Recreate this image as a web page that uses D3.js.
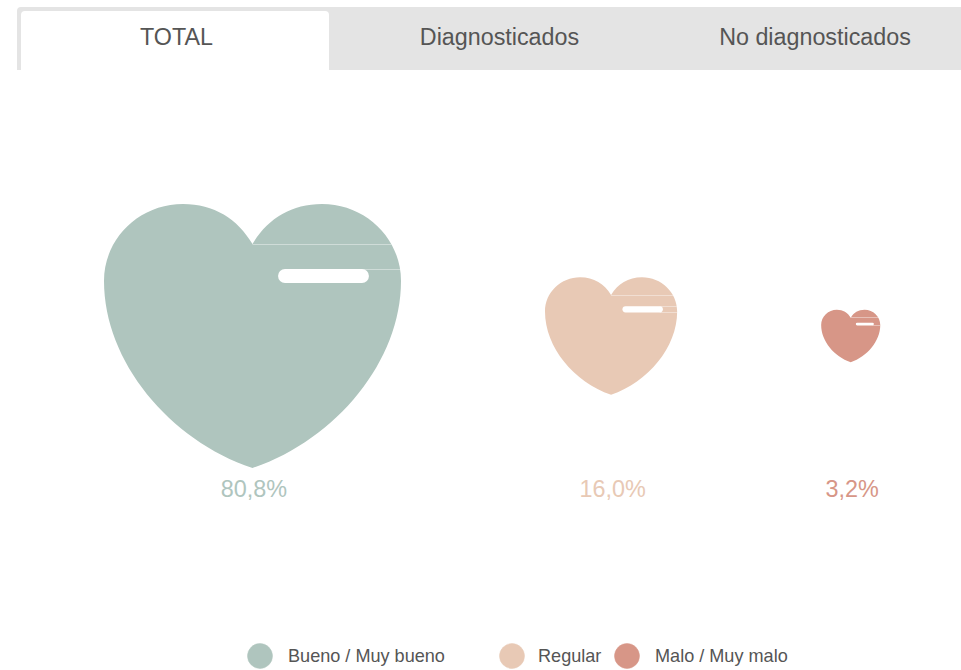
<!DOCTYPE html>
<html><head><meta charset="utf-8">
<script src="https://cdn.jsdelivr.net/npm/d3@7/dist/d3.min.js"></script>
<style>html,body{margin:0;padding:0;background:#fff;overflow:hidden}svg{display:block}text{font-family:"Liberation Sans",Arial,sans-serif}</style>
</head><body><svg id="c" width="961" height="670"></svg>
<script>
const tabs = ["TOTAL", "Diagnosticados", "No diagnosticados"];
const categories = ["Bueno / Muy bueno", "Regular", "Malo / Muy malo"];
const values = [80.8, 16.0, 3.2];
const valueLabels = ["80,8%", "16,0%", "3,2%"];
const colors = ["#afc5be", "#e8c9b5", "#d79687"];
const seamEdges = [["top"], ["top", "bottom"], ["bottom"]];

const svg = d3.select("#c");
// tabs
const tabX = [176.5, 499.5, 815];
svg.append("path").attr("fill", "#e4e4e4")
  .attr("d", "M17,70V11a4,4 0 0 1 4,-4H961V70Z");
svg.append("path").attr("fill", "#fff")
  .attr("d", "M21,70V15a4,4 0 0 1 4,-4H325a4,4 0 0 1 4,4V70Z");
svg.selectAll(".tab").data(tabs).join("text").attr("class", "tab")
  .attr("x", (d, i) => tabX[i]).attr("y", 45).attr("text-anchor", "middle")
  .attr("font-size", 23.3).attr("fill", "#555").text(d => d);

// hearts: width follows sqrt of the value, equal gaps between them
const size = d3.scaleSqrt().domain([0, d3.max(values)]).range([0, 297]);
const gap = 144, startX = 104, midY = 336;
let cursor = startX;
const cx = values.map(v => { const w = size(v); const c = cursor + w / 2; cursor += w + gap; return c; });

function heart(w, x0, y0) {
  const X = u => x0 + u * w, Y = v => y0 + v * w;
  const p = d3.path();
  p.moveTo(X(0), Y(.135));
  p.bezierCurveTo(X(-.05), Y(.05), X(-.13), Y(0), X(-.234), Y(0));
  p.bezierCurveTo(X(-.38), Y(0), X(-.5), Y(.115), X(-.5), Y(.259));
  p.bezierCurveTo(X(-.5), Y(.53), X(-.28), Y(.794), X(0), Y(.889));
  p.bezierCurveTo(X(.28), Y(.794), X(.5), Y(.53), X(.5), Y(.259));
  p.bezierCurveTo(X(.5), Y(.115), X(.38), Y(0), X(.234), Y(0));
  p.bezierCurveTo(X(.13), Y(0), X(.05), Y(.05), X(0), Y(.135));
  p.closePath();
  return p.toString();
}
const row = y => Math.floor(y) + .5;
const defs = svg.append("defs");
values.forEach((v, i) => {
  const w = size(v), x0 = cx[i], y0 = midY - w * .889 / 2;
  const d = heart(w, x0, y0);
  defs.append("clipPath").attr("id", "h" + i).append("path").attr("d", d);
  svg.append("path").attr("d", d).attr("fill", colors[i]);
  const g = svg.append("g").attr("clip-path", `url(#h${i})`)
    .attr("stroke", "#fff").attr("stroke-opacity", .4).attr("stroke-width", 1);
  const slitL = x0 + .086 * w, slitR = x0 + .392 * w, slitT = y0 + .219 * w, slitH = .047 * w;
  const ny = row(y0 + .135 * w);
  g.append("line").attr("x1", x0).attr("x2", x0 + w).attr("y1", ny).attr("y2", ny);
  seamEdges[i].forEach(e => {
    const y = row(e === "top" ? slitT : slitT + slitH);
    g.append("line").attr("x1", slitR - slitH / 2).attr("x2", x0 + w).attr("y1", y).attr("y2", y);
  });
  svg.append("rect").attr("x", slitL).attr("y", slitT).attr("width", slitR - slitL).attr("height", slitH)
    .attr("rx", slitH / 2).attr("fill", "#fff");
  svg.append("text").attr("x", x0 + 1.5).attr("y", 497).attr("text-anchor", "middle")
    .attr("font-size", 23.4).attr("fill", colors[i]).text(valueLabels[i]);
});

// legend
const legCircle = [260, 512, 627], legText = [288, 538, 655];
categories.forEach((c, i) => {
  svg.append("circle").attr("cx", legCircle[i]).attr("cy", 656).attr("r", 12.5).attr("fill", colors[i])
    .attr("stroke", colors[i]).attr("stroke-opacity", .5).attr("stroke-width", 1);
  svg.append("text").attr("x", legText[i]).attr("y", 662).attr("font-size", 18.1).attr("fill", "#555").text(c);
});
</script></body></html>
